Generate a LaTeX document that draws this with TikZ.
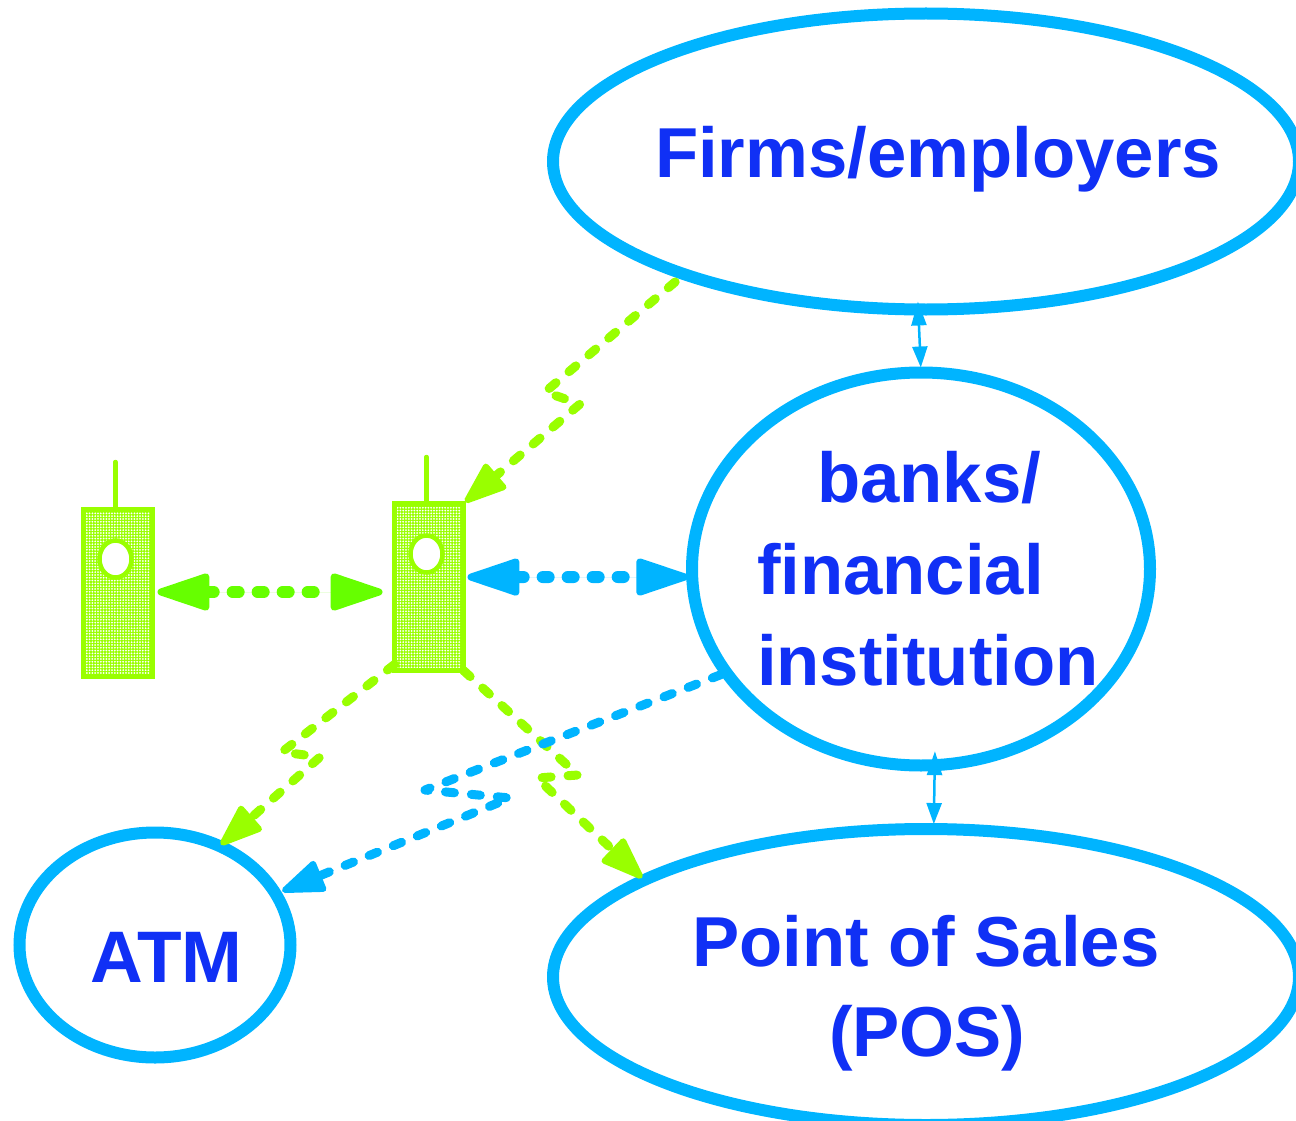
\documentclass[tikz,border=0pt]{standalone}
\usepackage{fontspec}
\setmainfont{Liberation Sans}
\usetikzlibrary{arrows.meta,shapes.geometric,patterns.meta}
\definecolor{skyb}{HTML}{00B4FF}
\definecolor{lime}{HTML}{99FF00}
\definecolor{limeb}{HTML}{66FF00}
\definecolor{labelb}{HTML}{1030F5}
\tikzset{
  place/.style={draw=skyb,line width=12pt,ellipse,inner sep=0pt,outer sep=0pt},
  lab/.style={text=labelb,anchor=base west,inner sep=0pt,outer sep=0pt,font=\bfseries\fontsize{70.7}{84}\selectfont},
  phonebody/.style={draw=lime,line width=5pt,preaction={fill=lime},rectangle,inner sep=0pt,outer sep=0pt,minimum width=69pt,minimum height=167pt,
    pattern={Dots[distance=2.8pt,radius=1pt]},pattern color=white},
  phonehole/.style={draw=lime,line width=4.5pt,fill=white,ellipse,inner sep=0pt,outer sep=0pt,minimum width=32pt,minimum height=37pt},
  antenna/.style={draw=lime,line width=4.5pt,line cap=round},
  dashgreen/.style={draw=lime,line width=9pt,line cap=round,line join=round,dash pattern=on 9pt off 17pt,
    -{Triangle[length=48pt,width=34pt,round,line width=6pt,fill=lime]}},
  dashblue/.style={draw=skyb,line width=9pt,line cap=round,line join=round,dash pattern=on 9pt off 17pt,
    -{Triangle[length=48pt,width=34pt,round,line width=6pt,fill=skyb]}},
  bigtwo/.style={line width=12pt,line cap=round,dash pattern=on 6pt off 19pt,
    {Triangle[length=60pt,width=38pt,round,line width=7pt]}-{Triangle[length=60pt,width=38pt,round,line width=7pt]}},
  thintwo/.style={draw=skyb,line width=2.5pt,
    {Triangle[length=24pt,width=15pt]}-{Triangle[length=21pt,width=15pt]}}
}
\begin{document}
\begin{tikzpicture}[x=1pt,y=-1pt]
\clip (0,0) rectangle (1296,1121);
\node[place,minimum width=746pt,minimum height=296pt] (firms) at (926,161.5) {};
\node[place,minimum width=458pt,minimum height=393pt] (banks) at (921,569) {};
\node[place,minimum width=746pt,minimum height=296pt] (pos) at (926,977) {};
\node[place,minimum width=271pt,minimum height=225pt] (atm) at (155,945) {};
\node[lab] (tfirms) at (655,177) {Firms/employers};
\node[lab] (tbanks) at (817,502) {banks/};
\node[lab] (tfin) at (757,594) {financial};
\node[lab] (tinst) at (757,685) {institution};
\node[lab] (tpos) at (692,966) {Point of Sales};
\node[lab] (tposb) at (829,1056) {(POS)};
\node[lab,font=\bfseries\fontsize{73}{84}\selectfont] (tatm) at (90,982) {ATM};
\node[phonebody] (phoneA) at (118,593) {};
\node[phonehole] (holeA) at (115.5,559) {};
\coordinate (antA) at (115.5,462);
\draw[antenna] (antA) -- (antA |- phoneA.north);
\node[phonebody] (phoneB) at (429,587) {};
\node[phonehole] (holeB) at (426.5,554) {};
\coordinate (antB) at (426.5,457);
\draw[antenna] (antB) -- (antB |- phoneB.north);
% zig-zag way points
\coordinate (fa) at (545,392);
\coordinate (fb) at (580,404);
\coordinate (aa) at (282,752);
\coordinate (ab) at (320,757);
\coordinate (pa) at (578,775);
\coordinate (pb) at (537,778);
\coordinate (ba) at (425,790);
\coordinate (bb) at (510,798);
\draw[dashgreen,shorten <=12pt,shorten >=2pt] (firms.205) -- (fa) -- (fb) -- (phoneB.north east);
\draw[dashgreen,shorten >=2pt] (phoneB.-114) -- (aa) -- (ab) -- (atm.57.5);
\draw[dashgreen,shorten >=3pt] (phoneB.south east) -- (pa) -- (pb) -- (pos.161.6);
\draw[dashblue,shorten <=6pt,shorten >=7pt] (banks.208.8) -- (ba) -- (bb) -- (atm.23);
\draw[bigtwo,draw=limeb,fill=limeb,shorten <=5pt,shorten >=12pt] (phoneA.east |- 0,592) -- (phoneB.west |- 0,592);
\draw[bigtwo,draw=skyb,fill=skyb,shorten <=4pt,shorten >=4pt] (phoneB.16) -- (banks.182);
\draw[thintwo,shorten <=-8pt,shorten >=5pt] (firms.-93.5) -- (banks.90);
\draw[thintwo,shorten <=-14pt,shorten >=5pt] (banks.-86.5) -- (pos.87.3);
\end{tikzpicture}
\end{document}
